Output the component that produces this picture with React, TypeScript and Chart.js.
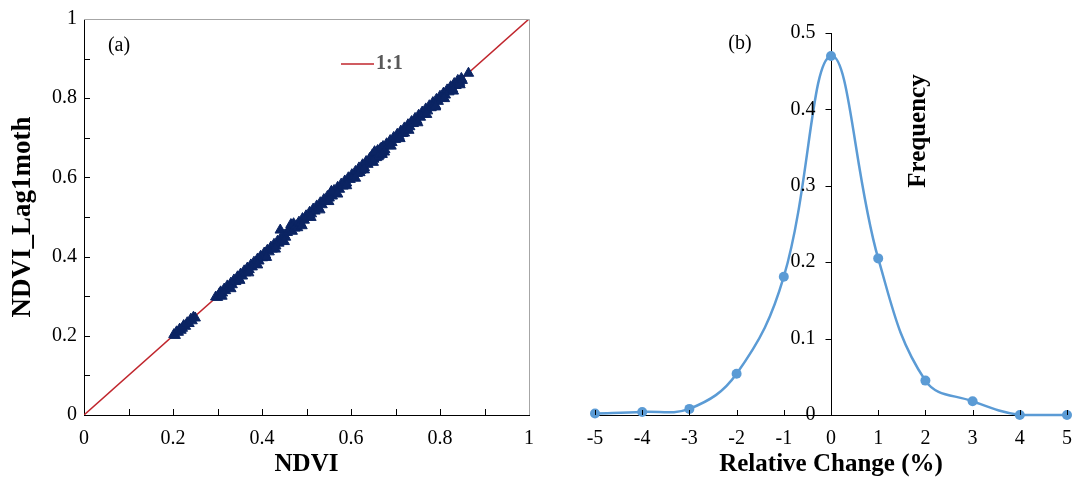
import React, { useEffect, useRef } from 'react';
import { Chart, registerables } from 'chart.js';
Chart.register(...registerables);

// ---------- Panel (a) data ----------
const ndvi = [
  0.202, 0.205, 0.208, 0.212, 0.215, 0.218, 0.221, 0.224, 0.228, 0.232, 0.236, 0.24, 0.243, 0.246, 0.25,
  0.296, 0.3, 0.304, 0.307, 0.311, 0.315, 0.318, 0.322, 0.326, 0.33, 0.333, 0.337, 0.341, 0.345, 0.348,
  0.352, 0.356, 0.36, 0.363, 0.367, 0.371, 0.375, 0.378, 0.382, 0.386, 0.39, 0.393, 0.397, 0.401, 0.405,
  0.408, 0.412, 0.416, 0.42, 0.423, 0.427, 0.431, 0.435, 0.438, 0.441, 0.442, 0.446, 0.45, 0.453, 0.457,
  0.462, 0.465, 0.468, 0.471, 0.474, 0.477, 0.48, 0.483, 0.487, 0.491, 0.495, 0.499, 0.503, 0.507, 0.511,
  0.515, 0.519, 0.523, 0.527, 0.531, 0.535, 0.539, 0.543, 0.547, 0.551, 0.555, 0.558, 0.562, 0.566, 0.57,
  0.574, 0.578, 0.582, 0.586, 0.59, 0.594, 0.598, 0.602, 0.606, 0.61, 0.614, 0.618, 0.622, 0.626, 0.63,
  0.634, 0.638, 0.642, 0.645, 0.648, 0.651, 0.654, 0.657, 0.66, 0.663, 0.666, 0.669, 0.672, 0.676, 0.68,
  0.684, 0.688, 0.692, 0.696, 0.7, 0.704, 0.708, 0.712, 0.716, 0.72, 0.724, 0.728, 0.732, 0.736, 0.74,
  0.744, 0.748, 0.752, 0.756, 0.76, 0.764, 0.768, 0.772, 0.776, 0.78, 0.784, 0.788, 0.792, 0.796, 0.8,
  0.804, 0.808, 0.812, 0.816, 0.82, 0.824, 0.828, 0.832, 0.836, 0.84, 0.844, 0.848, 0.85, 0.864,
  0.653, 0.661, 0.668, 0.675, 0.556, 0.62, 0.72, 0.79,
  0.31, 0.33, 0.35, 0.37, 0.39, 0.41, 0.43, 0.45, 0.49, 0.51, 0.53, 0.55, 0.57, 0.59,
  0.61, 0.63, 0.65, 0.67, 0.69, 0.71, 0.73, 0.75, 0.77, 0.79, 0.81, 0.83, 0.845,
];
const ndviLag1 = [
  0.203, 0.201, 0.21, 0.209, 0.217, 0.214, 0.219, 0.226, 0.224, 0.233, 0.231, 0.242, 0.238, 0.247, 0.245,
  0.298, 0.297, 0.306, 0.311, 0.308, 0.318, 0.314, 0.326, 0.322, 0.333, 0.329, 0.341, 0.337, 0.349, 0.344,
  0.356, 0.351, 0.364, 0.359, 0.371, 0.367, 0.379, 0.374, 0.386, 0.382, 0.394, 0.389, 0.401, 0.397, 0.409,
  0.404, 0.416, 0.412, 0.424, 0.419, 0.431, 0.427, 0.439, 0.434, 0.467, 0.446, 0.442, 0.454, 0.449, 0.461,
  0.47, 0.481, 0.464, 0.483, 0.472, 0.478, 0.473, 0.487, 0.484, 0.496, 0.492, 0.503, 0.5, 0.512, 0.508,
  0.52, 0.515, 0.528, 0.523, 0.536, 0.531, 0.544, 0.54, 0.552, 0.548, 0.561, 0.553, 0.567, 0.562, 0.575,
  0.57, 0.583, 0.578, 0.591, 0.586, 0.599, 0.595, 0.607, 0.602, 0.615, 0.61, 0.624, 0.618, 0.632, 0.625,
  0.64, 0.633, 0.648, 0.641, 0.657, 0.646, 0.662, 0.65, 0.668, 0.655, 0.672, 0.661, 0.678, 0.67, 0.685,
  0.68, 0.693, 0.688, 0.701, 0.696, 0.709, 0.704, 0.717, 0.711, 0.725, 0.72, 0.733, 0.728, 0.741, 0.736,
  0.749, 0.744, 0.757, 0.752, 0.765, 0.76, 0.773, 0.768, 0.781, 0.776, 0.789, 0.784, 0.797, 0.792, 0.805,
  0.8, 0.813, 0.808, 0.821, 0.816, 0.829, 0.824, 0.837, 0.832, 0.845, 0.84, 0.85, 0.845, 0.863,
  0.665, 0.652, 0.674, 0.664, 0.565, 0.612, 0.712, 0.781,
  0.3, 0.319, 0.34, 0.359, 0.379, 0.398, 0.419, 0.438, 0.478, 0.499, 0.518, 0.539, 0.558, 0.579,
  0.598, 0.619, 0.638, 0.658, 0.679, 0.698, 0.719, 0.738, 0.759, 0.778, 0.799, 0.818, 0.834,
];
const oneToOneX = [0, 1];
const oneToOneY = [0, 1];
const ndviTickLabels = ['0', '0.2', '0.4', '0.6', '0.8', '1'];

// ---------- Panel (b) data ----------
const relativeChange = [-5, -4, -3, -2, -1, 0, 1, 2, 3, 4, 5];
const frequency = [0.002, 0.004, 0.008, 0.054, 0.181, 0.47, 0.205, 0.045, 0.018, 0.0, 0.0];
const frequencyTicks = [0, 0.1, 0.2, 0.3, 0.4, 0.5];
const frequencyTickLabels = ['0', '0.1', '0.2', '0.3', '0.4', '0.5'];

const SERIF = "'Liberation Serif', 'Times New Roman', serif";
const W = 1075;
const H = 487;

const panelAPlugin = {
  id: 'panelA',
  afterDraw(chart: any) {
    const { ctx, chartArea: ca, scales } = chart;
    const xs = scales.x;
    const ys = scales.y;
    ctx.save();
    // top & right frame
    ctx.strokeStyle = '#a6a6a6';
    ctx.lineWidth = 1;
    ctx.beginPath();
    ctx.moveTo(ca.left, Math.round(ca.top) + 0.5);
    ctx.lineTo(Math.round(ca.right) + 0.5, Math.round(ca.top) + 0.5);
    ctx.lineTo(Math.round(ca.right) + 0.5, ca.bottom);
    ctx.stroke();
    // inward ticks
    ctx.strokeStyle = '#000';
    ctx.beginPath();
    for (let i = 1; i < 10; i++) {
      const v = i / 10;
      const px = Math.round(xs.getPixelForValue(v)) + 0.5;
      ctx.moveTo(px, ca.bottom);
      ctx.lineTo(px, ca.bottom - 6);
      const py = Math.round(ys.getPixelForValue(v)) + 0.5;
      ctx.moveTo(ca.left, py);
      ctx.lineTo(ca.left + 6, py);
    }
    ctx.stroke();
    // legend
    ctx.strokeStyle = '#c0262d';
    ctx.lineWidth = 1.5;
    ctx.beginPath();
    ctx.moveTo(341, 64);
    ctx.lineTo(374, 64);
    ctx.stroke();
    ctx.fillStyle = '#595959';
    ctx.font = `bold 20px ${SERIF}`;
    ctx.textAlign = 'left';
    ctx.textBaseline = 'middle';
    ctx.fillText('1:1', 376, 64);
    // panel label
    ctx.fillStyle = '#000';
    ctx.font = `20px ${SERIF}`;
    ctx.textAlign = 'center';
    ctx.fillText('(a)', 119, 46);
    ctx.restore();
  },
};

const panelBPlugin = {
  id: 'panelB',
  afterDraw(chart: any) {
    const { ctx, chartArea: ca, scales } = chart;
    const xs = scales.x;
    const ys = scales.y;
    const axisX = Math.round(xs.getPixelForValue(0)) + 0.5;
    ctx.save();
    ctx.strokeStyle = '#000';
    ctx.lineWidth = 1;
    ctx.beginPath();
    for (const v of relativeChange) {
      const px = Math.round(xs.getPixelForValue(v)) + 0.5;
      ctx.moveTo(px, ca.bottom);
      ctx.lineTo(px, ca.bottom - 5);
    }
    for (const v of frequencyTicks) {
      const py = Math.round(ys.getPixelForValue(v)) + 0.5;
      ctx.moveTo(axisX, py);
      ctx.lineTo(axisX - 6, py);
    }
    ctx.stroke();
    // y tick labels left of the centred axis
    ctx.fillStyle = '#000';
    ctx.font = `20px ${SERIF}`;
    ctx.textAlign = 'right';
    ctx.textBaseline = 'middle';
    frequencyTicks.forEach((v, i) => {
      ctx.fillText(frequencyTickLabels[i], axisX - 16, ys.getPixelForValue(v));
    });
    ctx.textAlign = 'center';
    ctx.fillText('(b)', 200, 44);
    ctx.translate(379, 131);
    ctx.rotate(-Math.PI / 2);
    ctx.font = `bold 25px ${SERIF}`;
    ctx.fillText('Frequency', 0, 0);
    ctx.restore();
  },
};

function PanelA() {
  const ref = useRef<HTMLCanvasElement | null>(null);
  useEffect(() => {
    if (!ref.current) return;
    const chart = new Chart(ref.current, {
      type: 'scatter',
      data: {
        datasets: [
          {
            label: 'NDVI',
            data: ndvi.map((x, i) => ({ x, y: ndviLag1[i] })),
            pointStyle: 'triangle',
            pointRadius: 6,
            backgroundColor: '#0b2463',
            borderColor: '#0b2463',
            borderWidth: 1,
            order: 0,
          },
          {
            type: 'line',
            label: '1:1',
            data: oneToOneX.map((x, i) => ({ x, y: oneToOneY[i] })),
            borderColor: '#c0262d',
            borderWidth: 1.5,
            pointRadius: 0,
            showLine: true,
            order: 1,
          } as any,
        ],
      },
      options: {
        animation: false,
        responsive: true,
        maintainAspectRatio: false,
        events: [],
        layout: { padding: { top: 19, right: 11, left: 0, bottom: 0 } },
        plugins: { legend: { display: false }, tooltip: { enabled: false } },
        scales: {
          x: {
            type: 'linear',
            min: 0,
            max: 1,
            afterFit: (s: any) => { s.height = 72; s.paddingRight = 0; s.paddingLeft = 0; },
            grid: { display: true, drawOnChartArea: false, drawTicks: false },
            border: { display: true, color: '#000', width: 1 },
            ticks: {
              stepSize: 0.1,
              padding: 12,
              color: '#000',
              font: { family: SERIF, size: 20 },
              maxRotation: 0,
              autoSkip: false,
              callback: (v: any) => {
                const k = Math.round(Number(v) * 10);
                return k % 2 === 0 ? ndviTickLabels[k / 2] : '';
              },
            },
            title: {
              display: true,
              text: 'NDVI',
              color: '#000',
              font: { family: SERIF, size: 25, weight: 'bold' },
              padding: { top: 0, bottom: 7 },
            },
          },
          y: {
            type: 'linear',
            min: 0,
            max: 1,
            afterFit: (s: any) => { s.width = 84; },
            grid: { display: true, drawOnChartArea: false, drawTicks: false },
            border: { display: true, color: '#000', width: 1 },
            ticks: {
              stepSize: 0.1,
              padding: 7,
              color: '#000',
              font: { family: SERIF, size: 20 },
              autoSkip: false,
              callback: (v: any) => {
                const k = Math.round(Number(v) * 10);
                return k % 2 === 0 ? ndviTickLabels[k / 2] : '';
              },
            },
            title: {
              display: true,
              text: 'NDVI_Lag1moth',
              color: '#000',
              font: { family: SERIF, size: 27, weight: 'bold' },
              padding: { top: 7, bottom: 0 },
            },
          },
        },
      },
      plugins: [panelAPlugin],
    } as any);
    return () => chart.destroy();
  }, []);
  return <canvas ref={ref} />;
}

function PanelB() {
  const ref = useRef<HTMLCanvasElement | null>(null);
  useEffect(() => {
    if (!ref.current) return;
    const chart = new Chart(ref.current, {
      type: 'line',
      data: {
        datasets: [
          {
            label: 'Frequency',
            data: relativeChange.map((x, i) => ({ x, y: frequency[i] })),
            borderColor: '#5b9bd5',
            backgroundColor: '#5b9bd5',
            borderWidth: 2.5,
            pointRadius: 5,
            pointBorderWidth: 0,
            pointBackgroundColor: '#5b9bd5',
            tension: 0.4,
            clip: false,
          },
        ],
      },
      options: {
        animation: false,
        responsive: true,
        maintainAspectRatio: false,
        events: [],
        layout: { padding: { top: 33, right: 8, left: 55, bottom: 0 } },
        plugins: { legend: { display: false }, tooltip: { enabled: false } },
        scales: {
          x: {
            type: 'linear',
            min: -5,
            max: 5,
            afterFit: (s: any) => { s.height = 72; s.paddingRight = 0; s.paddingLeft = 0; },
            grid: { display: true, drawOnChartArea: false, drawTicks: false },
            border: { display: true, color: '#000', width: 1 },
            ticks: {
              stepSize: 1,
              padding: 12,
              color: '#000',
              font: { family: SERIF, size: 20 },
              maxRotation: 0,
              autoSkip: false,
            },
            title: {
              display: true,
              text: 'Relative Change (%)',
              color: '#000',
              font: { family: SERIF, size: 25, weight: 'bold' },
              padding: { top: 0, bottom: 7 },
            },
          },
          y: {
            type: 'linear',
            position: { x: 0 },
            min: 0,
            max: 0.5,
            grid: { display: true, drawOnChartArea: false, drawTicks: false },
            border: { display: true, color: '#000', width: 1 },
            ticks: { display: false, stepSize: 0.1 },
          },
        },
      },
      plugins: [panelBPlugin],
    } as any);
    return () => chart.destroy();
  }, []);
  return <canvas ref={ref} />;
}

export default function App() {
  return (
    <div style={{ position: 'fixed', left: 0, top: 0, width: W, height: H, background: '#fff' }}>
      <div style={{ position: 'absolute', left: 0, top: 0, width: 540, height: H }}>
        <PanelA />
      </div>
      <div style={{ position: 'absolute', left: 540, top: 0, width: 535, height: H }}>
        <PanelB />
      </div>
    </div>
  );
}
